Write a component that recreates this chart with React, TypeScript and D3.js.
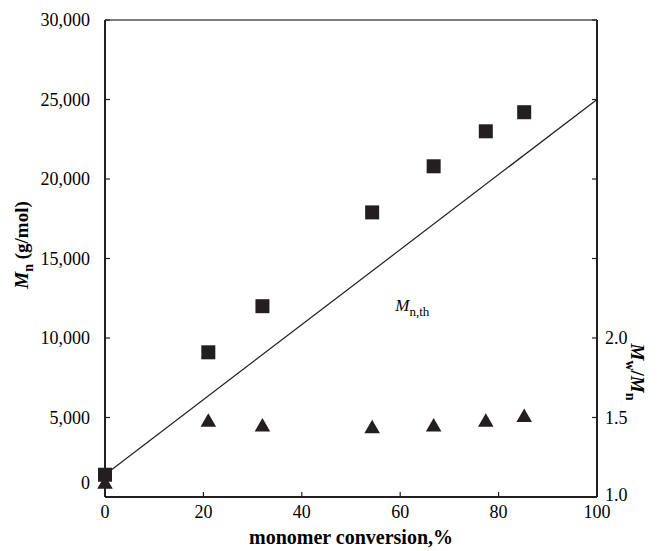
import React from 'react';
import * as d3 from 'd3';

// monomer conversion (%) for each sample
const conversion = [0, 21, 32, 54.3, 66.8, 77.4, 85.2];
// number-average molar mass, g/mol (squares)
const mnValues = [1400, 9100, 12000, 17900, 20800, 23000, 24200];
// dispersity Mw/Mn (triangles)
const pdiValues = [1.08, 1.47, 1.44, 1.43, 1.44, 1.47, 1.5];
// theoretical Mn line
const thConversion = [0, 100];
const thMn = [1400, 25000];

const xTicks = [0, 20, 40, 60, 80, 100];
const leftTicks = [0, 5000, 10000, 15000, 20000, 25000, 30000];
const rightTicks = [1.0, 1.5, 2.0, 2.5, 3.0, 3.5, 4.0];
const rightLabelled = [1.0, 1.5, 2.0];

const W = 659;
const H = 551;
const margin = { top: 20, right: 62, bottom: 54, left: 105 };
const font = '"Liberation Serif", "Times New Roman", serif';
const ink = '#231f20';

export default function App() {
  const x0 = margin.left;
  const x1 = W - margin.right;
  const y0 = H - margin.bottom;
  const y1 = margin.top;

  const x = d3.scaleLinear().domain([0, 100]).range([x0, x1]);
  const yL = d3.scaleLinear().domain([0, 30000]).range([y0, y1]);
  const yR = d3.scaleLinear().domain([1, 4]).range([y0, y1]);
  const fmt = d3.format(',');

  const line = d3
    .line<number>()
    .x((d) => x(d))
    .y((_, i) => yL(thMn[i]));

  const sq = 14;
  const tri = d3.symbol().type(d3.symbolTriangle).size(105)();

  return (
    <svg width={W} height={H} style={{ position: 'absolute', left: 0, top: 0 }} fontFamily={font}>
      <rect width={W} height={H} fill="#fff" />

      {/* theory line */}
      <path d={line(thConversion) || ''} fill="none" stroke={ink} strokeWidth={1.2} />

      {/* triangles: Mw/Mn */}
      {conversion.map((c, i) => (
        <path key={'t' + i} d={tri || ''} transform={`translate(${x(c)},${yR(pdiValues[i])})`} fill={ink} />
      ))}

      {/* squares: Mn */}
      {conversion.map((c, i) => (
        <rect key={'s' + i} x={x(c) - sq / 2} y={yL(mnValues[i]) - sq / 2} width={sq} height={sq} fill={ink} />
      ))}

      {/* frame */}
      <line x1={x0} x2={x1} y1={y1} y2={y1} stroke="#555" strokeWidth={1.5} />
      <line x1={x0} x2={x1} y1={y0} y2={y0} stroke={ink} strokeWidth={2} />
      <line x1={x0} x2={x0} y1={y1} y2={y0} stroke={ink} strokeWidth={2} />
      <line x1={x1} x2={x1} y1={y1} y2={y0} stroke={ink} strokeWidth={2} />

      {/* bottom axis */}
      {xTicks.map((t) => (
        <g key={'x' + t}>
          <line x1={x(t)} x2={x(t)} y1={y0} y2={y0 - 5} stroke={ink} strokeWidth={1.2} />
          <text x={x(t)} y={y0 + 21} fontSize={18} textAnchor="middle">
            {t}
          </text>
        </g>
      ))}

      {/* left axis */}
      {leftTicks.map((t) => (
        <g key={'l' + t}>
          <line x1={x0} x2={x0 + 5} y1={yL(t)} y2={yL(t)} stroke={ink} strokeWidth={1.2} />
          <text x={x0 - 15} y={yL(t) - (t === 0 ? 14 : 0)} dy="0.35em" fontSize={18} textAnchor="end">
            {fmt(t)}
          </text>
        </g>
      ))}

      {/* right axis */}
      {rightTicks.map((t) => (
        <g key={'r' + t}>
          <line x1={x1} x2={x1 - 5} y1={yR(t)} y2={yR(t)} stroke={ink} strokeWidth={1.2} />
          {rightLabelled.includes(t) && (
            <text x={x1 + 8} y={yR(t) - (t === 1 ? 2 : 0)} dy="0.35em" fontSize={18} textAnchor="start">
              {t.toFixed(1)}
            </text>
          )}
        </g>
      ))}

      {/* Mn,th label */}
      <text x={x(59)} y={yL(11700)} fontSize={17}>
        <tspan fontStyle="italic">M</tspan>
        <tspan fontSize={13} dy={5}>n,th</tspan>
      </text>

      {/* axis titles */}
      <text x={(x0 + x1) / 2} y={544} fontSize={20} fontWeight="bold" textAnchor="middle">
        monomer conversion,%
      </text>
      <text transform={`translate(28,245) rotate(-90)`} fontSize={19} fontWeight="bold" textAnchor="middle">
        <tspan fontStyle="italic">M</tspan>
        <tspan fontSize={14} dy={5}>n</tspan>
        <tspan dy={-5}> (g/mol)</tspan>
      </text>
      <text transform={`translate(631,372) rotate(90)`} fontSize={19} fontWeight="bold" textAnchor="middle">
        <tspan fontStyle="italic">M</tspan>
        <tspan fontSize={14} dy={5}>w</tspan>
        <tspan dy={-5}>/</tspan>
        <tspan fontStyle="italic">M</tspan>
        <tspan fontSize={14} dy={5}>n</tspan>
      </text>
    </svg>
  );
}
